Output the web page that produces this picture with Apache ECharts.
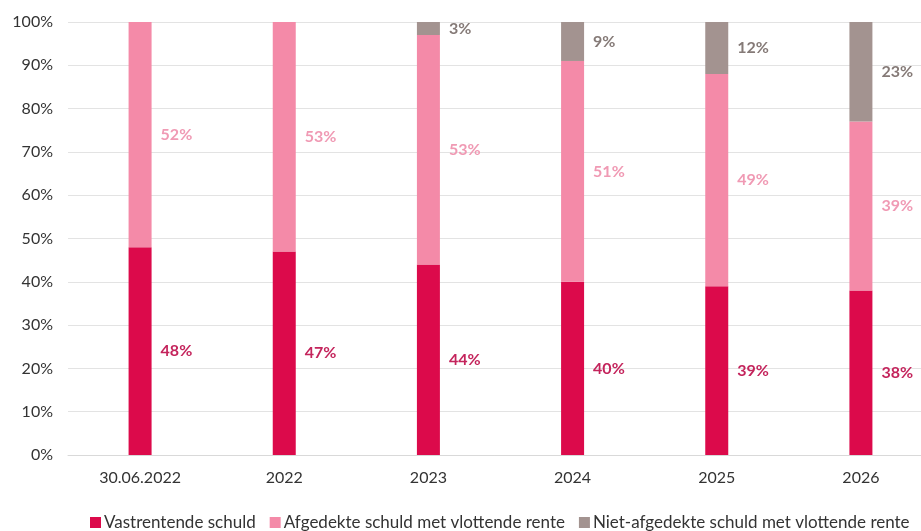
<!DOCTYPE html>
<html style="height: 100%">
<head>
<meta charset="utf-8">
<script src="https://cdn.jsdelivr.net/npm/echarts@6/dist/echarts.min.js"></script>
</head>
<body style="height: 100%; margin: 0; background: #fff">
<div id="container" style="width: 921px; height: 531px"></div>
<script type="text/javascript">
var categories = ['30.06.2022', '2022', '2023', '2024', '2025', '2026'];
var vastrentend = [48, 47, 44, 40, 39, 38];
var afgedekt = [52, 53, 53, 51, 49, 39];
var nietAfgedekt = [0, 0, 3, 9, 12, 23];
var yTicks = [0, 10, 20, 30, 40, 50, 60, 70, 80, 90, 100];

var font = 'Lato';
var chart = echarts.init(document.getElementById('container'));

function seg(name, data, color, labelColor) {
	return {
		name: name,
		type: 'bar',
		stack: 'total',
		barWidth: 23,
		data: data,
		itemStyle: { color: color },
		label: {
			show: true,
			position: 'right',
			distance: 9,
			color: labelColor,
			fontFamily: font,
			fontWeight: 'bold',
			fontSize: 16,
			formatter: function (p) { return p.value > 0 ? p.value + '%' : ''; }
		}
	};
}

var option = {
	animation: false,
	grid: { left: 68, top: 22, width: 865, bottom: 76, outerBoundsMode: 'none' },
	xAxis: {
		type: 'category',
		data: categories,
		axisLine: { lineStyle: { color: '#d9d9d9' } },
		axisTick: { show: false },
		axisLabel: { color: '#333', fontFamily: font, fontSize: 16, margin: 15 }
	},
	yAxis: {
		type: 'value',
		min: yTicks[0],
		max: yTicks[yTicks.length - 1],
		interval: 10,
		axisLabel: { color: '#333', fontFamily: font, fontSize: 16, margin: 15, formatter: '{value}%' },
		splitLine: { lineStyle: { color: '#e3e3e3' } }
	},
	legend: {
		left: 90,
		bottom: 0,
		width: 880,
		padding: 0,
		itemWidth: 11,
		itemHeight: 11,
		itemGap: 14,
		itemStyle: { borderWidth: 0 },
		icon: 'rect',
		textStyle: { color: '#333', fontFamily: font, fontSize: 17, padding: [0, 0, 0, -2] },
		data: ['Vastrentende schuld', 'Afgedekte schuld met vlottende rente', 'Niet-afgedekte schuld met vlottende rente']
	},
	series: [
		seg('Vastrentende schuld', vastrentend, '#dc0a4b', '#c4245c'),
		seg('Afgedekte schuld met vlottende rente', afgedekt, '#f48aa8', '#f09ab4'),
		seg('Niet-afgedekte schuld met vlottende rente', nietAfgedekt, '#a39390', '#857a77')
	]
};
chart.setOption(option);
</script>
</body>
</html>
